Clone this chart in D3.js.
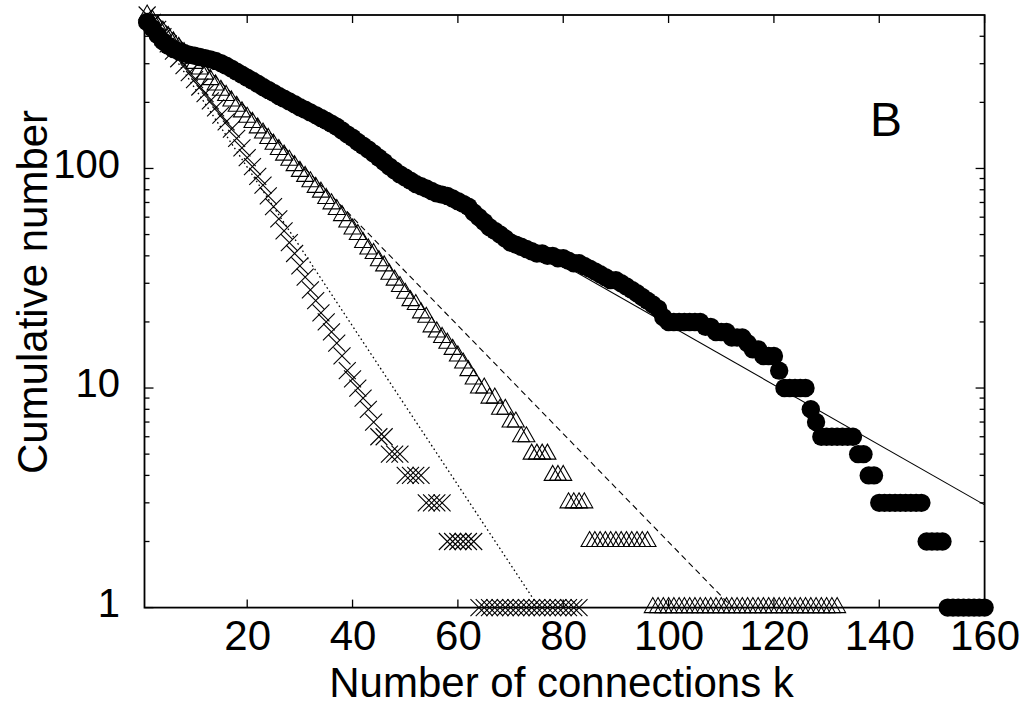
<!DOCTYPE html>
<html><head><meta charset="utf-8">
<script src="https://cdn.jsdelivr.net/npm/d3@7"></script>
<style>
body{margin:0;background:#fff}
svg{display:block}
text{font-family:"Liberation Sans",Arial,Helvetica,sans-serif;fill:#000}
</style>
</head><body>
<svg id="chart" width="1029" height="711"></svg>
<script>
// ---- data ----
const circleN = [465,435,405,380,362,350,342,336,330,326,
 322,318,314,309,302,294,285,276,267,259,
 251,243,235,228,221,214,208,202,196,190,
 185,180,175,170,165,160,155,149,143,138,
 132,127,122,117,112,107,102,98,94,91,
 88,85,83,81,79,77,76,75,73,71,
 69,67,63,60,57,54,52,50,48,46,
 45,44,43,42,41,41,40,40,39,39,
 38,37,37,36,35,34,33,32,31,31,
 30,29,28,27,26,25,24,23,21,20,
 20,20,20,20,20,20,19,19,18,18,
 18,17,17,17,16,15,15,14,14,14,
 12,10,10,10,10,10,8,7,6,6,
 6,6,6,6,6,5,5,4,4,3,
 3,3,3,3,3,3,3,3,2,2,
 2,2,1,1,1,1,1,1,1,1];
const triangleN = [500,473,447,422,399,377,356,337,318,301,
 284,269,254,240,227,215,203,192,181,171,
 162,153,145,137,129,122,115,109,103,97,
 92,87,82,78,73,69,65,61,57,53,
 50,46,43,41,38,36,33,31,29,27,
 25,24,22,21,19,18,17,16,15,14,
 13,12,11,10,10,9,9,8,8,7,
 7,6,6,5,5,5,5,4,4,4,
 3,3,3,3,2,2,2,2,2,2,
 2,2,2,2,2,2,1,1,1,1,
 1,1,1,1,1,1,1,1,1,1,
 1,1,1,1,1,1,1,1,1,1,
 1,1,1,1,1,1,1,1,1,1,
 1,1];
const crossN = [500,463,430,398,369,342,316,294,273,254,
 235,219,203,189,175,163,151,137,124,112,
 102,92,84,75,67,59,52,46,41,36,
 32,28,25,22,20,18,16,14,12,11,
 10,9,8,7,6,6,5,5,5,4,
 4,4,4,3,3,3,3,2,2,2,
 2,2,2,1,1,1,1,1,1,1,
 1,1,1,1,1,1,1,1,1,1,
 1,1,1];
// exponential fits: log10 N = fitLog0 - fitDecay * k  (solid, dotted, dashed)
const fitLog0  = [2.655, 2.73, 2.763];
const fitDecay = [0.01367, 0.0362, 0.02464];
const fitDash  = ["none", "1.6 2.8", "6 4"];
const xTicks = [20,40,60,80,100,120,140,160];
const yTicks = [1,10,100];
const yMinor = [2,3,4,5,6,7,8,9,20,30,40,50,60,70,80,90,200,300,400];
const xTitle = "Number of connections k";
const yTitle = "Cumulative number";
const panel = "B";

// ---- layout ----
const L = 144.5, R = 984.6, T = 15, B = 607.6;
const svg = d3.select("#chart");
const x = d3.scaleLinear().domain([0.5,160]).range([L,R]);
const y = d3.scaleLog().domain([1,500]).range([B,T]);

svg.append("defs").append("clipPath").attr("id","clip")
  .append("rect").attr("x",L).attr("y",T).attr("width",R-L).attr("height",B-T);

// ticks
const tg = svg.append("g").attr("stroke","#000").attr("stroke-width",1.3);
xTicks.forEach(v=>{
  tg.append("line").attr("x1",x(v)).attr("x2",x(v)).attr("y1",B).attr("y2",B-8);
  tg.append("line").attr("x1",x(v)).attr("x2",x(v)).attr("y1",T).attr("y2",T+8);
});
yTicks.forEach(v=>{
  tg.append("line").attr("x1",L).attr("x2",L+9).attr("y1",y(v)).attr("y2",y(v));
  tg.append("line").attr("x1",R).attr("x2",R-9).attr("y1",y(v)).attr("y2",y(v));
});
yMinor.forEach(v=>{
  tg.append("line").attr("x1",L).attr("x2",L+5).attr("y1",y(v)).attr("y2",y(v));
  tg.append("line").attr("x1",R).attr("x2",R-5).attr("y1",y(v)).attr("y2",y(v));
});

// tick labels via d3 axes (no lines)
const ax = svg.append("g").attr("transform",`translate(0,${B})`)
  .call(d3.axisBottom(x).tickValues(xTicks).tickSize(0).tickPadding(13).tickFormat(d3.format("d")));
ax.select(".domain").remove();
ax.selectAll("text").attr("font-size",42).attr("font-family","Liberation Sans, Arial, sans-serif");
const ay = svg.append("g").attr("transform",`translate(${L},0)`)
  .call(d3.axisLeft(y).tickValues(yTicks).tickSize(0).tickPadding(24.5).tickFormat(d3.format("d")));
ay.select(".domain").remove();
ay.selectAll("text").attr("font-size",40).attr("dy","0.22em").attr("font-family","Liberation Sans, Arial, sans-serif");

// fit lines
const lg = svg.append("g").attr("clip-path","url(#clip)");
fitLog0.forEach((a,i)=>{
  const k0 = 0.5, k1 = 160;
  lg.append("line")
    .attr("x1",x(k0)).attr("y1",y(Math.pow(10,a-fitDecay[i]*k0)))
    .attr("x2",x(k1)).attr("y2",y(Math.pow(10,a-fitDecay[i]*k1)))
    .attr("stroke","#000").attr("stroke-width",i===1?1.3:1.1)
    .attr("stroke-dasharray",fitDash[i]);
});

// markers
svg.append("g").selectAll("circle").data(circleN).join("circle")
  .attr("cx",(d,i)=>x(i+1)).attr("cy",d=>y(d)).attr("r",9.2).attr("fill","#000");
svg.append("g").selectAll("path").data(triangleN).join("path")
  .attr("transform",(d,i)=>`translate(${x(i+1)},${y(d)})`)
  .attr("d","M0,-10L8.5,5L-8.5,5Z").attr("fill","none").attr("stroke","#000").attr("stroke-width",1.1);
svg.append("g").selectAll("path").data(crossN).join("path")
  .attr("transform",(d,i)=>`translate(${x(i+1)},${y(d)})`)
  .attr("d","M-8.5,-8.5L8.5,8.5M-8.5,8.5L8.5,-8.5").attr("fill","none").attr("stroke","#000").attr("stroke-width",1.1);

// frame
svg.append("rect").attr("x",L).attr("y",T).attr("width",R-L).attr("height",B-T)
  .attr("fill","none").attr("stroke","#000").attr("stroke-width",1.8);

// titles
svg.append("text").attr("x",(L+R)/2-3).attr("y",696.5).attr("text-anchor","middle")
  .attr("font-size",42).text(xTitle);
svg.append("text").attr("transform","translate(47,292) rotate(-90)").attr("text-anchor","middle")
  .attr("font-size",42).text(yTitle);
svg.append("text").attr("x",870).attr("y",136).attr("font-size",48).text(panel);
</script>
</body></html>
